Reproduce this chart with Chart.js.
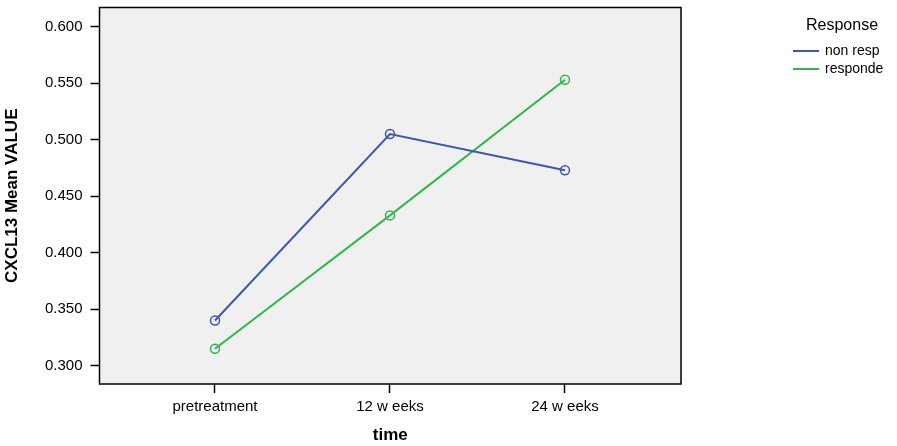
<!DOCTYPE html>
<html><head><meta charset="utf-8">
<script src="https://cdn.jsdelivr.net/npm/chart.js@4/dist/chart.umd.min.js"></script>
<style>html,body{margin:0;padding:0;background:#fff}#wrap{width:897px;height:446px;position:relative}</style>
</head><body><div id="wrap"><canvas id="c"></canvas></div>
<script>
const categories = ['pretreatment', '12 w eeks', '24 w eeks'];
const nonResp = [0.340, 0.505, 0.473];
const responder = [0.315, 0.433, 0.553];
const yTickValues = [0.300, 0.350, 0.400, 0.450, 0.500, 0.550, 0.600];
const seriesNames = ['non resp', 'responde'];
const seriesColors = ['#3d56b0', '#2eb84b'];
const legendTitle = 'Response';
const xTitle = 'time';
const yTitle = 'CXCL13 Mean VALUE';

const FONT = '"Liberation Sans", Arial, sans-serif';

function toPoints(arr) { return arr.map((v, i) => ({ x: i, y: v })); }

const frame = {
  id: 'frame',
  beforeDatasetsDraw(chart) {
    const a = chart.chartArea, ctx = chart.ctx;
    ctx.save();
    ctx.fillStyle = '#f0f0f0';
    ctx.fillRect(a.left, a.top, a.right - a.left, a.bottom - a.top);
    ctx.restore();
  },
  afterDatasetsDraw(chart) {
    const a = chart.chartArea, ctx = chart.ctx;
    ctx.save();
    ctx.strokeStyle = '#000';
    ctx.lineWidth = 1.5;
    ctx.strokeRect(a.left, a.top, a.right - a.left, a.bottom - a.top);
    ctx.restore();
  },
  afterDraw(chart) {
    const ctx = chart.ctx;
    ctx.save();
    ctx.fillStyle = '#000';
    ctx.textBaseline = 'middle';
    ctx.textAlign = 'center';
    ctx.font = '16px ' + FONT;
    ctx.fillText(legendTitle, 842, 26);
    ctx.textAlign = 'left';
    ctx.font = '14px ' + FONT;
    chart.data.datasets.forEach((ds, i) => {
      const y = 51 + i * 18;
      ctx.strokeStyle = ds.borderColor;
      ctx.lineWidth = 2;
      ctx.beginPath();
      ctx.moveTo(793, y);
      ctx.lineTo(819, y);
      ctx.stroke();
      ctx.fillText(ds.label, 825, y);
    });
    ctx.restore();
  }
};

new Chart(document.getElementById('c'), {
  type: 'line',
  data: {
    datasets: [
      { label: seriesNames[0], data: toPoints(nonResp), borderColor: seriesColors[0], backgroundColor: 'rgba(0,0,0,0)',
        borderWidth: 2, pointRadius: 4.5, pointBorderWidth: 1.5, pointBackgroundColor: 'rgba(0,0,0,0)', pointBorderColor: seriesColors[0], tension: 0 },
      { label: seriesNames[1], data: toPoints(responder), borderColor: seriesColors[1], backgroundColor: 'rgba(0,0,0,0)',
        borderWidth: 2, pointRadius: 4.5, pointBorderWidth: 1.5, pointBackgroundColor: 'rgba(0,0,0,0)', pointBorderColor: seriesColors[1], tension: 0 }
    ]
  },
  options: {
    responsive: true,
    maintainAspectRatio: false,
    animation: false,
    devicePixelRatio: 1,
    layout: { padding: { top: 7.5, right: 216, left: 0, bottom: 0 } },
    plugins: { legend: { display: false }, tooltip: { enabled: false } },
    scales: {
      x: {
        type: 'linear',
        min: -0.66, max: 2.663,
        afterBuildTicks: s => { s.ticks = categories.map((c, i) => ({ value: i })); },
        afterFit: s => { s.height = 62; s.paddingLeft = 0; s.paddingRight = 0; },
        ticks: { callback: v => categories[v], color: '#000', font: { family: FONT, size: 15 }, padding: 5, maxRotation: 0, autoSkip: false },
        grid: { drawOnChartArea: false, drawTicks: true, tickLength: 9, tickWidth: 1.5, tickColor: '#000' },
        border: { display: false },
        title: { display: true, text: xTitle, color: '#000', font: { family: FONT, size: 17, weight: 'bold' }, padding: { top: 0, bottom: 0 } }
      },
      y: {
        min: 0.2838, max: 0.617,
        afterBuildTicks: s => { s.ticks = yTickValues.map(v => ({ value: v })); },
        afterFit: s => { s.width = 99.5; s.paddingTop = 0; s.paddingBottom = 0; },
        ticks: { callback: v => v.toFixed(3), color: '#000', font: { family: FONT, size: 15 }, padding: 8 },
        grid: { drawOnChartArea: false, drawTicks: true, tickLength: 9, tickWidth: 1.5, tickColor: '#000' },
        border: { display: false },
        title: { display: true, text: yTitle, color: '#000', font: { family: FONT, size: 17, weight: 'bold' }, padding: { top: 2, bottom: 0 } }
      }
    }
  },
  plugins: [frame]
});
</script>
</body></html>
